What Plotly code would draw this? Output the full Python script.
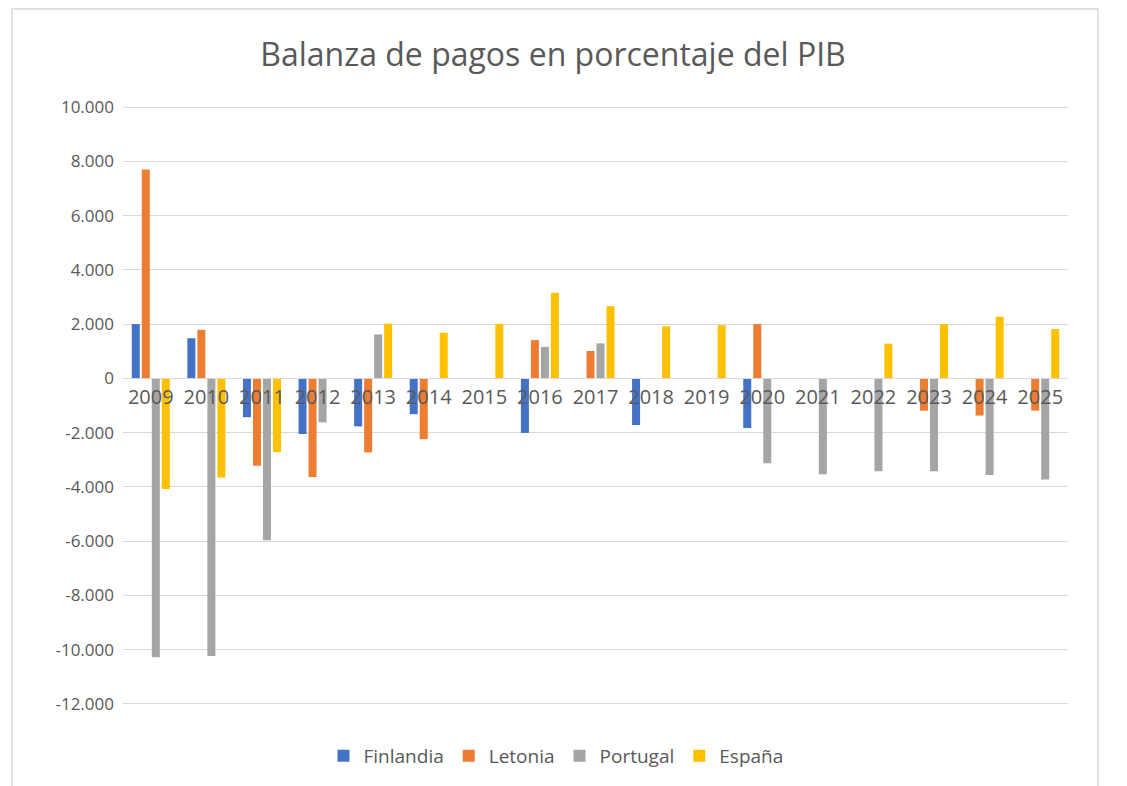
import plotly.graph_objects as go

years = [str(y) for y in range(2009, 2026)]
finlandia = [2.00, 1.48, -1.43, -2.05, -1.77, -1.32, None, -2.01, None, -1.72, None, -1.83, None, None, None, None, None]
letonia = [7.70, 1.79, -3.22, -3.64, -2.73, -2.24, None, 1.41, 1.01, None, None, 2.00, None, None, -1.19, -1.37, -1.19]
portugal = [-10.28, -10.23, -5.97, -1.62, 1.62, None, None, 1.16, 1.29, None, None, -3.13, -3.53, -3.42, -3.42, -3.56, -3.73]
espana = [-4.08, -3.65, -2.72, None, 2.02, 1.68, 2.01, 3.16, 2.66, 1.92, 1.96, None, None, 1.28, 2.00, 2.27, 1.82]

y_ticks = [10, 8, 6, 4, 2, 0, -2, -4, -6, -8, -10, -12]
y_labels = ["10.000", "8.000", "6.000", "4.000", "2.000", "0", "-2.000", "-4.000",
            "-6.000", "-8.000", "-10.000", "-12.000"]

series = [
    ("Finlandia", finlandia, "#4472C4"),
    ("Letonia", letonia, "#ED7D31"),
    ("Portugal", portugal, "#A5A5A5"),
    ("España", espana, "#FFC000"),
]

fig = go.Figure()
for name, vals, color in series:
    fig.add_trace(go.Bar(x=years, y=vals, name=name, marker_color=color,
                         marker_line_width=0))

# page has an 8px body margin, so work in page pixels minus 8
off = 8
y_min, y_max = -12.04, 10.04
W, H = 1127 - off, 786 - off
L, R, T, B = 123 - off, 59, 106 - off, 81
pw, ph = W - L - R, H - T - B

fig.update_layout(
    width=W, height=H,
    margin=dict(l=L, r=R, t=T, b=B, autoexpand=False),
    paper_bgcolor="white", plot_bgcolor="white",
    font=dict(family="Open Sans, Lato, sans-serif", color="#595959", size=17),
    title=dict(text="Balanza de pagos en porcentaje del PIB", x=(553 - off) / W, xref="container",
               xanchor="center", y=1 - (55 - off) / H, yanchor="middle",
               font=dict(size=32, color="#595959")),
    barmode="group", bargap=0.28, bargroupgap=0.2,
    showlegend=True,
    legend=dict(orientation="h", x=(556 - off) / W, xref="container", xanchor="center",
                y=1 - (756 - off) / H, yref="container", yanchor="middle",
                font=dict(size=19, color="#595959"), itemwidth=30),
)

fig.update_yaxes(range=[y_min, y_max], tickvals=y_ticks, ticktext=y_labels,
                 showgrid=True, gridcolor="#D9D9D9", gridwidth=1.3,
                 zeroline=False, showline=False, ticks="", ticklabelstandoff=8)
fig.update_xaxes(type="category", showgrid=False, zeroline=False,
                 showline=True, linecolor="#D9D9D9", linewidth=1.3, ticks="",
                 anchor="free", position=(0 - y_min) / (y_max - y_min),
                 tickfont=dict(size=20, color="#595959"))

# chart area border (figure px -> paper coords)
fig.add_shape(type="rect", xref="paper", yref="paper",
              x0=(12 - off - L) / pw, x1=(1098 - off - L) / pw,
              y0=(H - B - 800) / ph, y1=(H - B - 1) / ph,
              line=dict(color="#D9D9D9", width=1.5), fillcolor="rgba(0,0,0,0)", layer="below")

fig.write_html("out.html")
